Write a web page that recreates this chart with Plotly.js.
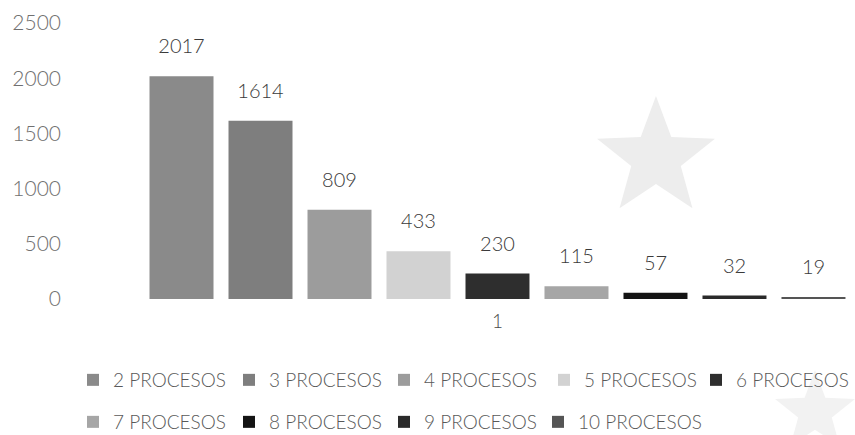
<!DOCTYPE html>
<html><head><meta charset="utf-8">
<script src="https://cdn.plot.ly/plotly-3.0.1.min.js"></script>
<style>html,body{margin:0;padding:0;background:#fff}#chart{width:855px;height:435px}</style>
</head><body><div id="chart"></div>
<script>
const categories = ["1"];
const seriesNames = ["2 PROCESOS","3 PROCESOS","4 PROCESOS","5 PROCESOS","6 PROCESOS","7 PROCESOS","8 PROCESOS","9 PROCESOS","10 PROCESOS"];
const seriesValues = [2017, 1614, 809, 433, 230, 115, 57, 32, 19];
const yTickValues = [0, 500, 1000, 1500, 2000, 2500];
const colors = ["#8a8a8a","#7e7e7e","#9c9c9c","#d2d2d2","#2e2e2e","#a6a6a6","#141414","#2a2a2a","#555555"];

const L = 72, R = 5, T = 23, B = 136, W = 855, H = 435;
const plotW = W - L - R, plotH = H - T - B;

// legend entry anchor positions (pixels, left of entry / row centre)
const legendPosX = [73, 229, 384, 544, 696, 73, 229, 384, 538];
const legendPosY = [380, 380, 380, 380, 380, 422, 422, 422, 422];

const legendId = i => (i === 0 ? 'legend' : 'legend' + (i + 1));

const traces = seriesNames.map((name, i) => ({
  type: 'bar', name: name, x: categories, y: [seriesValues[i]],
  legend: legendId(i),
  marker: {color: colors[i], line: {width: 0}},
  text: ["<span style='font-size:20px'>" + seriesValues[i] + "</span><br> "],
  textposition: 'outside', cliponaxis: false, constraintext: 'none',
  textfont: {family: 'Lato, sans-serif', size: 13, color: '#3a3a3a', weight: 300},
  hoverinfo: 'skip'
}));

function starPath(cx, cy, r) {
  let p = '';
  for (let k = 0; k < 10; k++) {
    const rr = k % 2 === 0 ? r : r * 0.42;
    const a = -Math.PI / 2 + k * Math.PI / 5;
    const px = cx + rr * Math.cos(a), py = cy + rr * Math.sin(a);
    const fx = (px - L) / plotW, fy = (T + plotH - py) / plotH;
    p += (k === 0 ? 'M' : 'L') + fx.toFixed(4) + ',' + fy.toFixed(4);
  }
  return p + 'Z';
}

const layout = {
  width: W, height: H,
  margin: {l: L, r: R, t: T, b: B, autoexpand: false},
  paper_bgcolor: '#fff', plot_bgcolor: '#fff',
  barmode: 'group', bargap: 0.02, bargroupgap: 0.19,
  font: {family: 'Lato, sans-serif', color: '#555'},
  xaxis: {type: 'category', range: [-0.5865, 0.4859], showgrid: false, zeroline: false,
          showline: false, ticks: '', tickfont: {size: 19, color: '#4a4a4a', weight: 300}, ticklabelstandoff: 9},
  yaxis: {range: [0, 2500], tickvals: yTickValues, showgrid: false, zeroline: false,
          showline: false, ticks: '', ticklabelstandoff: 10,
          tickfont: {size: 21, color: '#707070', weight: 300}},
  showlegend: true,
  shapes: [
    {type: 'path', xref: 'paper', yref: 'paper', path: starPath(656, 158, 62),
     fillcolor: '#ededed', line: {width: 0}, layer: 'below'},
    {type: 'path', xref: 'paper', yref: 'paper', path: starPath(815, 412, 42),
     fillcolor: '#f2f2f2', line: {width: 0}, layer: 'below'}
  ]
};

seriesNames.forEach((n, i) => {
  layout[legendId(i)] = {
    orientation: 'h', xanchor: 'left', yanchor: 'middle',
    x: (legendPosX[i] - L) / plotW, y: (T + plotH - legendPosY[i]) / plotH,
    font: {size: 19, color: '#595959', family: 'Lato, sans-serif', weight: 300},
    itemwidth: 30, bgcolor: 'rgba(0,0,0,0)'
  };
});

Plotly.newPlot('chart', traces, layout, {displayModeBar: false, staticPlot: true});
</script></body></html>
